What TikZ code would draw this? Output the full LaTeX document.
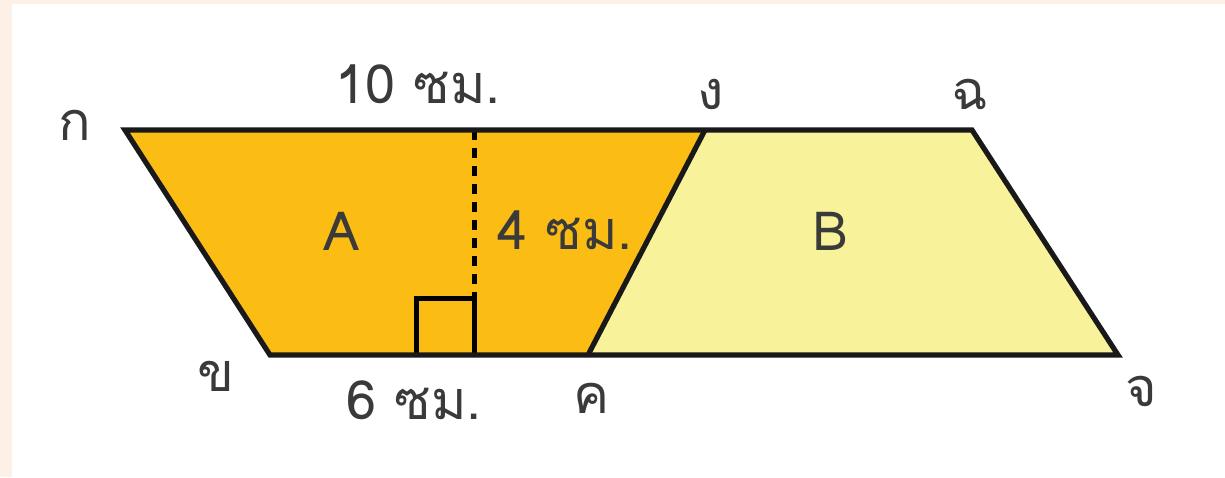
\documentclass[tikz,border=0pt]{standalone}
\usepackage{fontspec}
\setmainfont[Script=Thai]{Loma}
\usetikzlibrary{positioning}
\definecolor{peach}{HTML}{FDF0E6}
\definecolor{partA}{HTML}{FBBD14}
\definecolor{partB}{HTML}{F8F29A}
\definecolor{ink}{HTML}{3A3A3A}
\tikzset{
  edge/.style={line width=2.6pt,draw=black!90,line join=miter},
  lbl/.style={text=ink,font=\fontsize{27}{30}\selectfont,inner sep=0pt}
}
\begin{document}
\begin{tikzpicture}[x=0.5pt,y=-0.5pt]
  \fill[peach] (0,0) rectangle (1225,477);
  \fill[white] (12,4) rectangle (1225,477);
  \useasboundingbox (0,0) rectangle (1225,477);
  % จุดยอดของรูป
  \coordinate (k) at (125,130);
  \coordinate (ng) at (705,130);
  \coordinate (ch) at (972,130);
  \coordinate (kh) at (270,355);
  \coordinate (kk) at (588,355);
  \coordinate (ja) at (1118,355);
  \coordinate (top) at (474,130);
  \coordinate (foot) at (474,355);
  % ส่วน A และ B
  \fill[partA] (k) -- (ng) -- (kk) -- (kh) -- cycle;
  \fill[partB] (ng) -- (ch) -- (ja) -- (kk) -- cycle;
  \draw[line width=2.5pt,dash pattern=on 5pt off 4pt] (top) -- (474,298);
  \draw[line width=2.5pt] (foot) -- ++(0,-57) -- ++(-58,0) -- ++(0,57);
  \draw[edge] (k) -- (ch) -- (ja) -- (kh) -- cycle;
  \draw[edge] (ng) -- (kk);
  % ชื่อจุด
  \node[lbl] (lk) at (75,125) {ก};
  \node[lbl] (lkh) at (216,376) {ข};
  \node[lbl] (lkk) at (592,398) {ค};
  \node[lbl] (lja) at (1141,391) {จ};
  \node[lbl] (lng) at (711,94) {ง};
  \node[lbl] (lch) at (970,94) {ฉ};
  % ความยาว
  \node[lbl] (top len) at (418,84) {10 ซม.};
  \node[lbl,anchor=west] (height) at (497,230) {4 ซม.};
  \node[lbl] (base len) at (414,400) {6 ซม.};
  \node[lbl] (A) at (342,231) {A};
  \node[lbl] (B) at (830,231) {B};
\end{tikzpicture}
\end{document}
